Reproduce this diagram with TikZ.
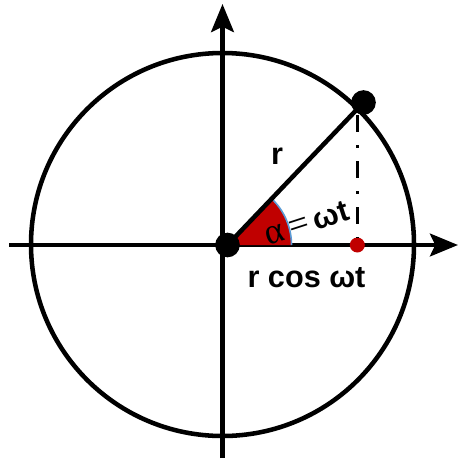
\documentclass[tikz,border=0pt]{standalone}
\usepackage{fontspec}
\setmainfont{Liberation Sans}
\newfontfamily\alphafont{Liberation Serif}
\usepackage{tikz}
\usetikzlibrary{arrows.meta,positioning}
\definecolor{sectred}{HTML}{C00000}
\definecolor{arcblue}{HTML}{5B9BD5}

\begin{document}
\begin{tikzpicture}[x=0.75pt,y=0.75pt,
  >={Stealth[length=21pt,width=17pt,inset=4pt]},
  thick line/.style={line width=3.4pt},
  bigdot/.style={circle,fill=black,inner sep=0pt,minimum size=18.5pt},
  reddot/.style={circle,fill=sectred,inner sep=0pt,minimum size=11.25pt},
  lbl/.style={font=\fontsize{23}{26}\selectfont\bfseries}]
\useasboundingbox (0,0) rectangle (459,458);
% circle and axes
\draw[thick line] (222.5,213.5) circle (191.5);
\draw[thick line,->] (9,213)--(458,213);
\draw[thick line,->] (222.5,0)--(222.5,454);
% angle sector
\fill[sectred] (227.5,213) -- ++(0:64) arc (0:46.3:64) -- cycle;
\draw[arcblue,line width=1.2pt] (227.5,213) ++(0:64) arc (0:46.3:64);
% points
\node[bigdot] (O) at (227.5,213) {};
\node[bigdot] (P) at (363.5,355.5) {};
\node[reddot] (Q) at (357.3,213) {};
\draw[thick line] (O.center)--(P.center);
\draw[line width=2.3pt,dash pattern=on 12.75pt off 9.75pt on 2.25pt off 9.75pt]
  (P.south -| Q) -- (Q.north);
% labels
\node[lbl] (rlabel) at (277,302) {r};
\node[lbl,anchor=base] (proj) at (306.5,171) {r cos ωt};
\node[lbl,rotate=18,inner sep=0pt] (angle) at (307,235)
  {{\alphafont\mdseries\fontsize{27}{30}\selectfont α\,=}\,ωt};
\end{tikzpicture}
\end{document}
